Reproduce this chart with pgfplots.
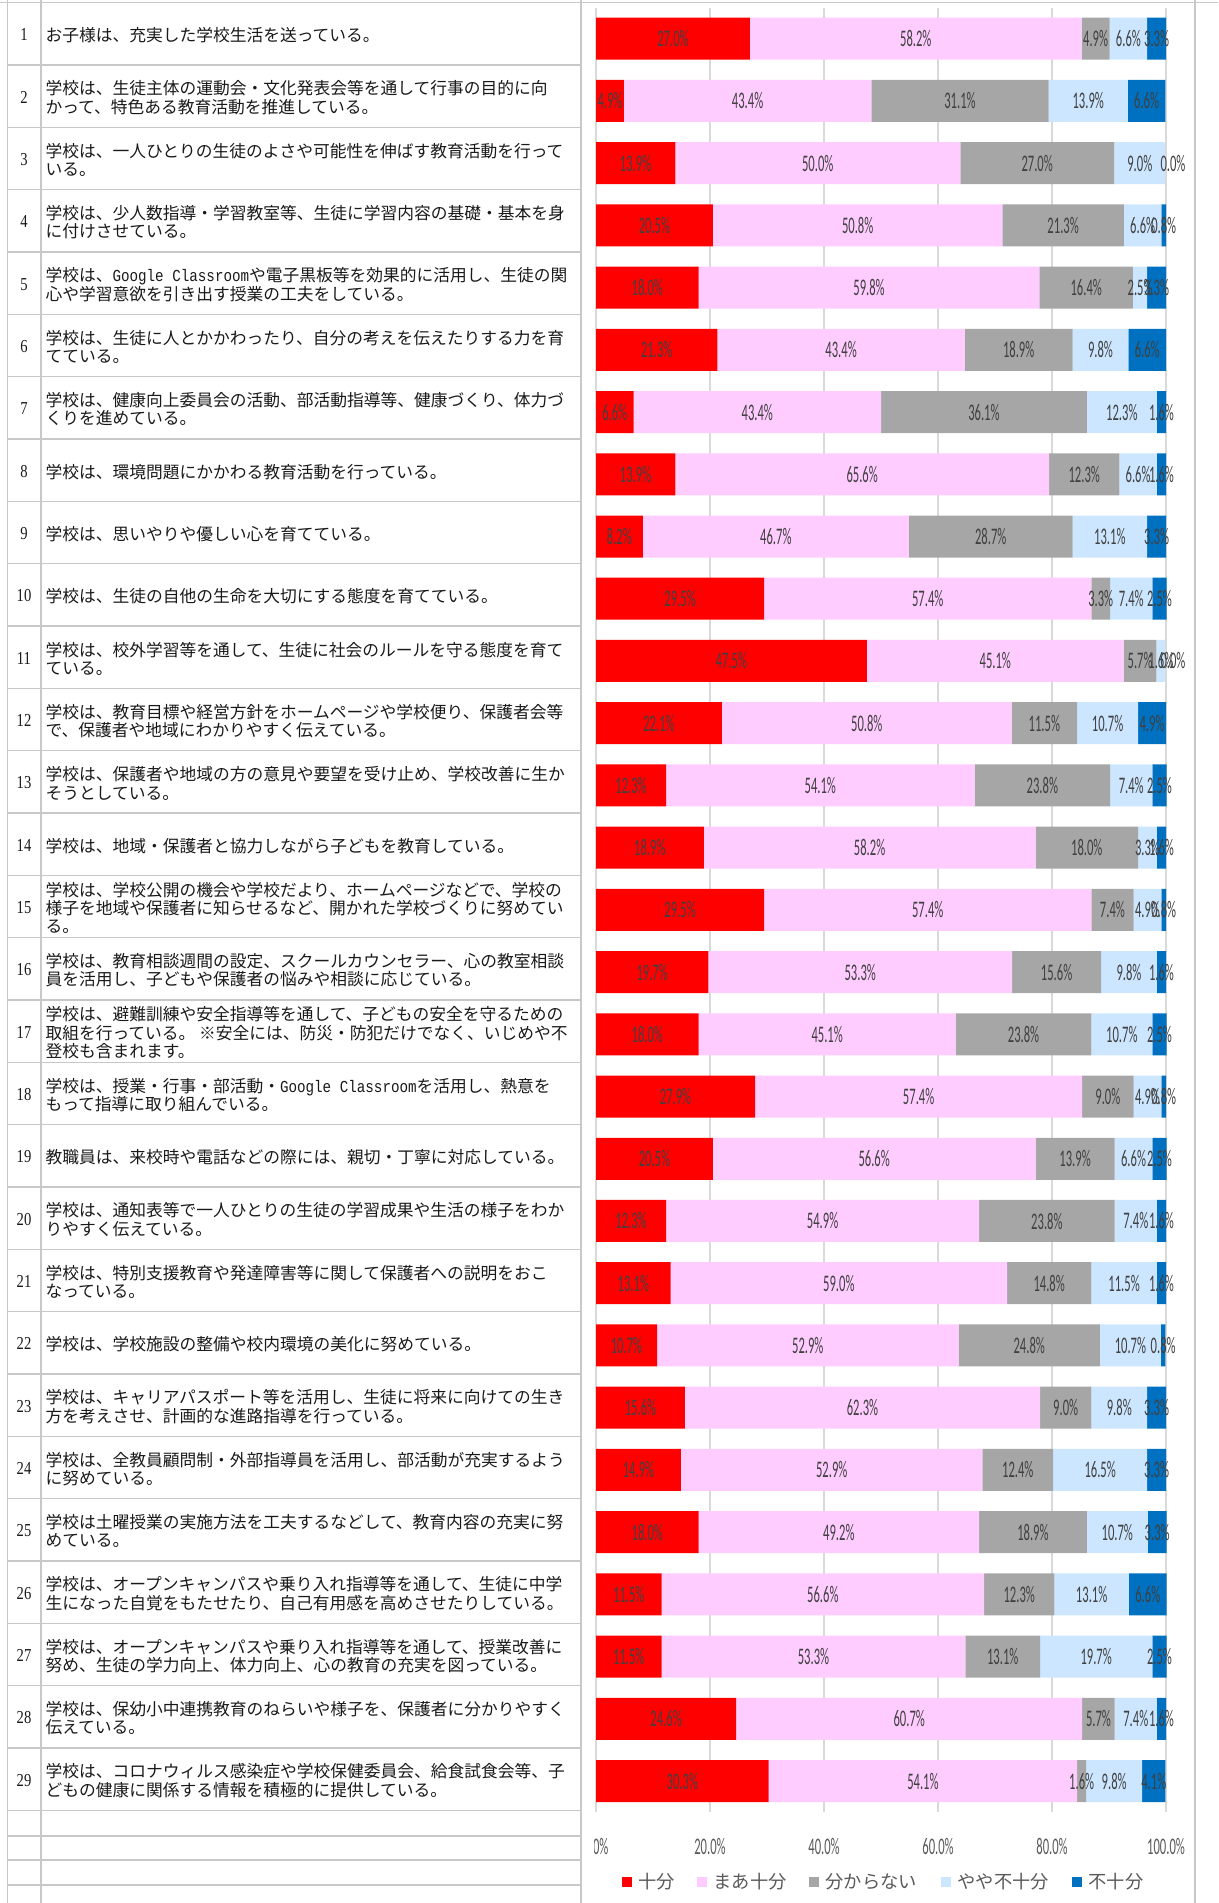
\documentclass[border=0pt]{standalone}
\usepackage{fontspec}
\usepackage{graphicx}
\usepackage{pgfplots}
\usepackage{pgfplotstable}
\pgfplotsset{compat=1.18}
\setmainfont{Carlito}
\newfontfamily\jp{Noto Sans CJK JP}
\newfontfamily\nf{Liberation Serif}
\newfontfamily\mono{Liberation Mono}
\definecolor{cRed}{HTML}{FF0000}
\definecolor{cPink}{HTML}{FFCCFF}
\definecolor{cGray}{HTML}{A6A6A6}
\definecolor{cLight}{HTML}{CCE6FF}
\definecolor{cBlue}{HTML}{0070C0}
\definecolor{lineg}{HTML}{C8C8C8}
\definecolor{labelc}{HTML}{404040}
\definecolor{tickc}{HTML}{595959}
\newcommand\lbl[1]{\scalebox{0.53}[1]{#1}}
\newcommand\gc{\scalebox{0.85}[1]{\mono Google Classroom}}

% q: item number; a=十分, b=まあ十分, c=分からない, d=やや不十分, e=不十分
\pgfplotstableread{
q a b c d e
1 27.0 58.2 4.9 6.6 3.3
2 4.9 43.4 31.1 13.9 6.6
3 13.9 50.0 27.0 9.0 0.0
4 20.5 50.8 21.3 6.6 0.8
5 18.0 59.8 16.4 2.5 3.3
6 21.3 43.4 18.9 9.8 6.6
7 6.6 43.4 36.1 12.3 1.6
8 13.9 65.6 12.3 6.6 1.6
9 8.2 46.7 28.7 13.1 3.3
10 29.5 57.4 3.3 7.4 2.5
11 47.5 45.1 5.7 1.6 0.0
12 22.1 50.8 11.5 10.7 4.9
13 12.3 54.1 23.8 7.4 2.5
14 18.9 58.2 18.0 3.3 1.6
15 29.5 57.4 7.4 4.9 0.8
16 19.7 53.3 15.6 9.8 1.6
17 18.0 45.1 23.8 10.7 2.5
18 27.9 57.4 9.0 4.9 0.8
19 20.5 56.6 13.9 6.6 2.5
20 12.3 54.9 23.8 7.4 1.6
21 13.1 59.0 14.8 11.5 1.6
22 10.7 52.9 24.8 10.7 0.8
23 15.6 62.3 9.0 9.8 3.3
24 14.9 52.9 12.4 16.5 3.3
25 18.0 49.2 18.9 10.7 3.3
26 11.5 56.6 12.3 13.1 6.6
27 11.5 53.3 13.1 19.7 2.5
28 24.6 60.7 5.7 7.4 1.6
29 30.3 54.1 1.6 9.8 4.1
}\data

\tikzset{
  rowtxt/.style={anchor=west, inner sep=0pt, align=left, font=\fontsize{6.7}{7.3}\selectfont\jp, text=black!90},
  numtxt/.style={anchor=center, inner sep=0pt, font=\fontsize{7.3}{7.3}\selectfont\nf, text=black!90},
}
\newcommand\row[2]{%
  \node[rowtxt] at (45,{2.7+62.33*(#1-0.5)+1.5}) {#2};
  \node[numtxt] at (24,{2.7+62.33*(#1-0.5)+1}) {\scalebox{0.8}[1]{#1}};
}
\pgfplotsset{
  geom/.style={at={(238.4pt,-3.04pt)}, anchor=north west,
    scale only axis, width=228pt, height=721.8pt,
    xmin=0, xmax=100, ymin=0.5, ymax=29.5, enlargelimits=false, clip=false},
  lblstyle/.style={point meta=explicit,
    /pgf/number format/assume math mode=true,
    nodes near coords={\lbl{\pgfmathprintnumber[fixed,fixed zerofill,precision=1]{\pgfplotspointmeta}\%}},
    every node near coord/.append style={anchor=center, inner sep=0pt, font=\fontsize{9.5}{9.5}\selectfont, text=labelc}},
}

\begin{document}
\begin{tikzpicture}[x=0.4pt,y=-0.4pt]
\path[use as bounding box] (0,0) rectangle (1218,1903);

% spreadsheet grid
\draw[lineg, line width=0.6pt] (0,2.7) -- (1218,2.7);
\foreach \k in {1,...,29} \draw[lineg, line width=0.6pt] (7.6,{2.7+62.33*\k}) -- (581,{2.7+62.33*\k});
\foreach \yy in {1836,1860,1885} \draw[lineg, line width=0.6pt] (7.6,\yy) -- (581,\yy);
\foreach \xx in {7.6,41,581,1195} \draw[lineg, line width=0.6pt] (\xx,0) -- (\xx,1903);

\begin{axis}[
  geom,
  xbar stacked, bar width=0.675,
  ytick=\empty,
  xtick={0,20,40,60,80,100},
  xticklabels={\lbl{0.0\%},\lbl{20.0\%},\lbl{40.0\%},\lbl{60.0\%},\lbl{80.0\%},\lbl{100.0\%}},
  xticklabel style={anchor=center, yshift=-13.6pt, font=\fontsize{9.5}{9.5}\selectfont, text=tickc},
  major tick length=0pt,
  xmajorgrids, grid style={draw=black!15, line width=0.5pt},
  axis line style={draw=none},
  lblstyle,
]
\addplot[fill=cRed, draw=none] table[x=a, y expr=30-\thisrow{q}, meta=a] {\data};
\addplot[fill=cPink, draw=none] table[x=b, y expr=30-\thisrow{q}, meta=b] {\data};
\addplot[fill=cGray, draw=none] table[x=c, y expr=30-\thisrow{q}, meta=c] {\data};
\addplot[fill=cLight, draw=none] table[x=d, y expr=30-\thisrow{q}, meta=d] {\data};
\addplot[fill=cBlue, draw=none] table[x=e, y expr=30-\thisrow{q}, meta=e] {\data};
\end{axis}

% labels of the zero-valued 不十分 segments (rows 3 and 11), at the end of each stack
\begin{axis}[geom, hide axis, lblstyle,
  every node near coord/.append style={xshift=3pt}]
\addplot[only marks, mark=none] table[
  x expr=\thisrow{a}+\thisrow{b}+\thisrow{c}+\thisrow{d}+\thisrow{e},
  y expr={\thisrow{e}==0 ? 30-\thisrow{q} : nan}, meta=e] {\data};
\end{axis}

% clip the 0.0% label at the chart area edge
\fill[white] (582,1828) rectangle (593.5,1859);

% legend
\foreach \mx/\tx/\c/\t in {627/638/cRed/十分, 702/713/cPink/まあ十分, 814/825/cGray/分からない, 946/957/cLight/やや不十分, 1077/1088/cBlue/不十分}{
  \fill[\c] (\mx-5,1877) rectangle (\mx+5,1887);
  \node[anchor=west, inner sep=0pt, font=\fontsize{7.3}{7.3}\selectfont\jp, text=tickc] at (\tx,1882) {\t};
}

% row texts
\row{1}{お子様は、充実した学校生活を送っている。}
\row{2}{学校は、生徒主体の運動会・文化発表会等を通して行事の目的に向\\かって、特色ある教育活動を推進している。}
\row{3}{学校は、一人ひとりの生徒のよさや可能性を伸ばす教育活動を行って\\いる。}
\row{4}{学校は、少人数指導・学習教室等、生徒に学習内容の基礎・基本を身\\に付けさせている。}
\row{5}{学校は、\gc や電子黒板等を効果的に活用し、生徒の関\\心や学習意欲を引き出す授業の工夫をしている。}
\row{6}{学校は、生徒に人とかかわったり、自分の考えを伝えたりする力を育\\てている。}
\row{7}{学校は、健康向上委員会の活動、部活動指導等、健康づくり、体力づ\\くりを進めている。}
\row{8}{学校は、環境問題にかかわる教育活動を行っている。}
\row{9}{学校は、思いやりや優しい心を育てている。}
\row{10}{学校は、生徒の自他の生命を大切にする態度を育てている。}
\row{11}{学校は、校外学習等を通して、生徒に社会のルールを守る態度を育て\\ている。}
\row{12}{学校は、教育目標や経営方針をホームページや学校便り、保護者会等\\で、保護者や地域にわかりやすく伝えている。}
\row{13}{学校は、保護者や地域の方の意見や要望を受け止め、学校改善に生か\\そうとしている。}
\row{14}{学校は、地域・保護者と協力しながら子どもを教育している。}
\row{15}{学校は、学校公開の機会や学校だより、ホームページなどで、学校の\\様子を地域や保護者に知らせるなど、開かれた学校づくりに努めてい\\る。}
\row{16}{学校は、教育相談週間の設定、スクールカウンセラー、心の教室相談\\員を活用し、子どもや保護者の悩みや相談に応じている。}
\row{17}{学校は、避難訓練や安全指導等を通して、子どもの安全を守るための\\取組を行っている。 ※安全には、防災・防犯だけでなく、いじめや不\\登校も含まれます。}
\row{18}{学校は、授業・行事・部活動・\gc を活用し、熱意を\\もって指導に取り組んでいる。}
\row{19}{教職員は、来校時や電話などの際には、親切・丁寧に対応している。}
\row{20}{学校は、通知表等で一人ひとりの生徒の学習成果や生活の様子をわか\\りやすく伝えている。}
\row{21}{学校は、特別支援教育や発達障害等に関して保護者への説明をおこ\\なっている。}
\row{22}{学校は、学校施設の整備や校内環境の美化に努めている。}
\row{23}{学校は、キャリアパスポート等を活用し、生徒に将来に向けての生き\\方を考えさせ、計画的な進路指導を行っている。}
\row{24}{学校は、全教員顧問制・外部指導員を活用し、部活動が充実するよう\\に努めている。}
\row{25}{学校は土曜授業の実施方法を工夫するなどして、教育内容の充実に努\\めている。}
\row{26}{学校は、オープンキャンパスや乗り入れ指導等を通して、生徒に中学\\生になった自覚をもたせたり、自己有用感を高めさせたりしている。}
\row{27}{学校は、オープンキャンパスや乗り入れ指導等を通して、授業改善に\\努め、生徒の学力向上、体力向上、心の教育の充実を図っている。}
\row{28}{学校は、保幼小中連携教育のねらいや様子を、保護者に分かりやすく\\伝えている。}
\row{29}{学校は、コロナウィルス感染症や学校保健委員会、給食試食会等、子\\どもの健康に関係する情報を積極的に提供している。}
\end{tikzpicture}
\end{document}
